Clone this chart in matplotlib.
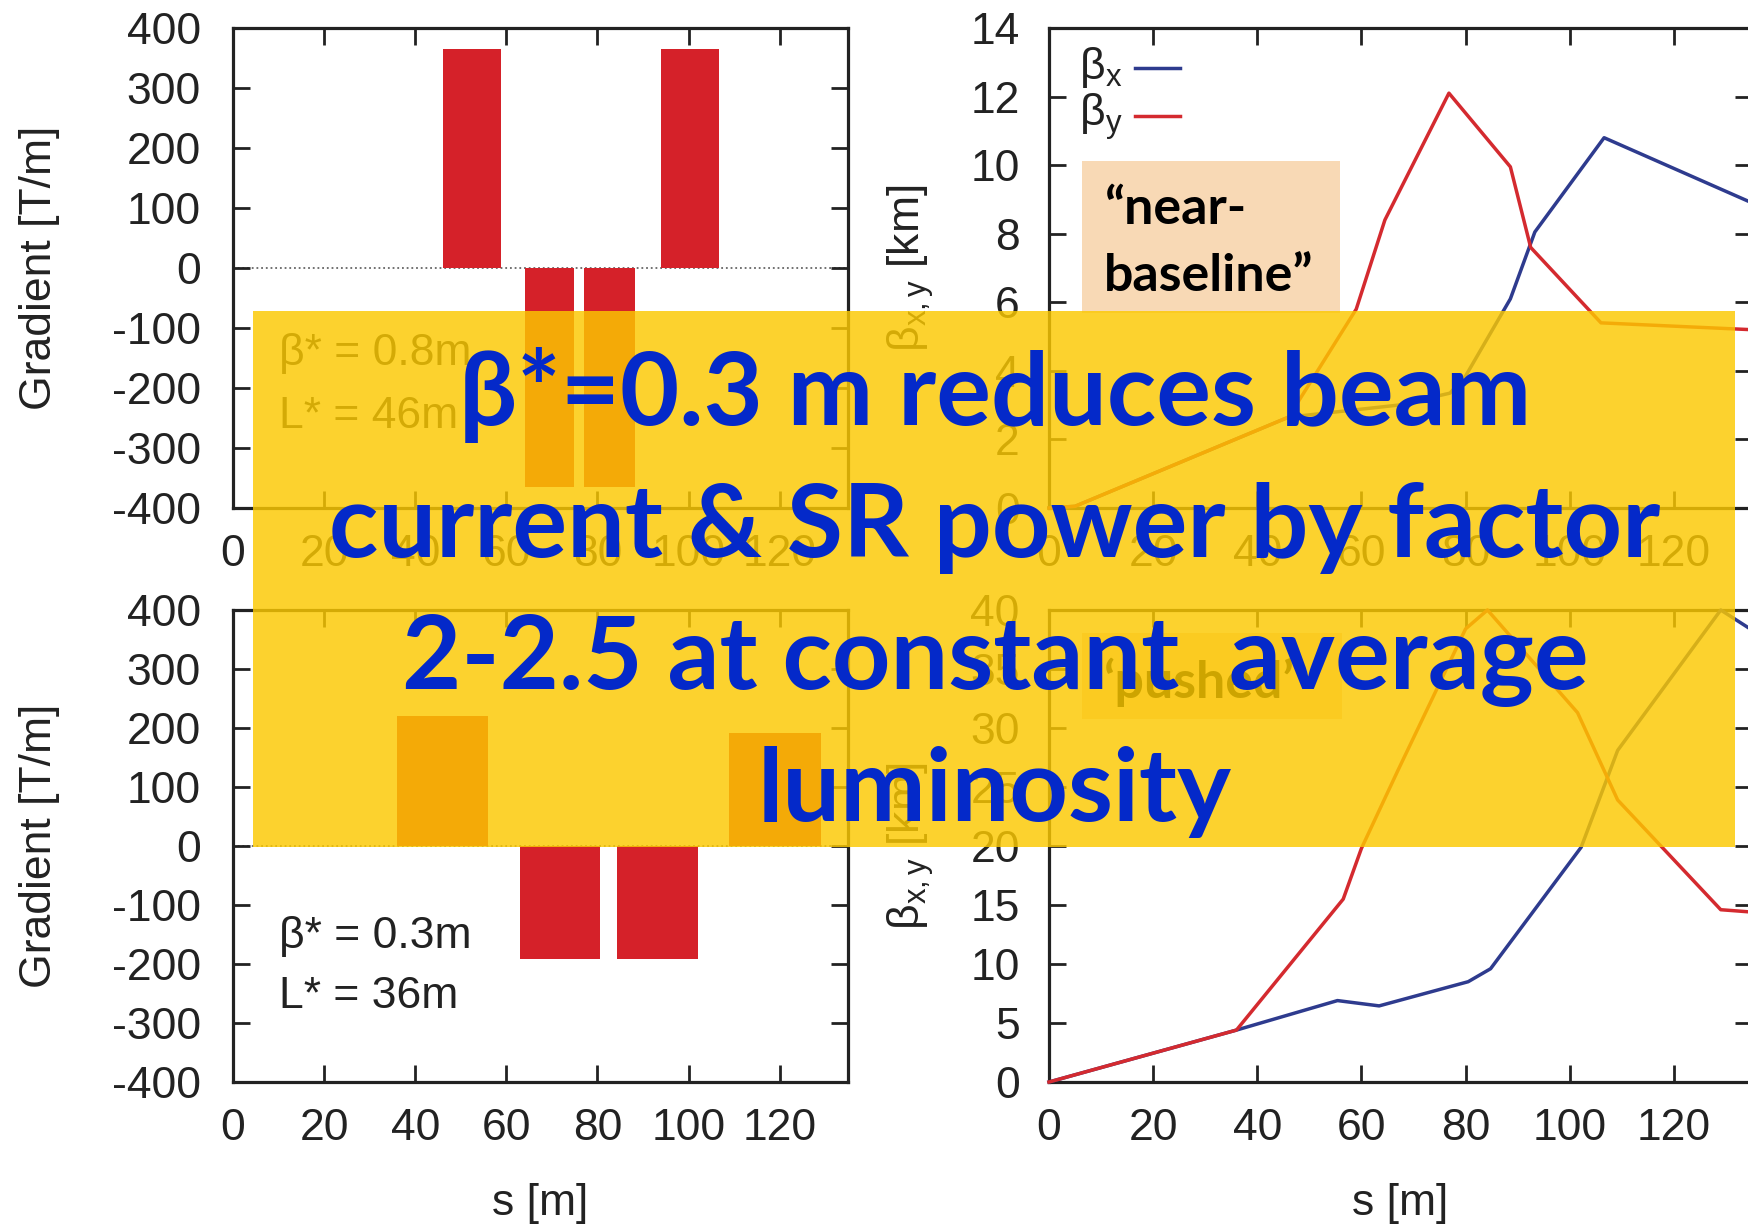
import matplotlib
matplotlib.use("Agg")
import matplotlib.pyplot as plt
from matplotlib.patches import Rectangle
from matplotlib.lines import Line2D

W, H, DPI = 1749, 1225, 100

# ---------------- data ----------------
s_ticks = [0, 20, 40, 60, 80, 100, 120]
grad_ticks = [-400, -300, -200, -100, 0, 100, 200, 300, 400]
beta_top_ticks = [0, 2, 4, 6, 8, 10, 12, 14]
beta_bot_ticks = [0, 5, 10, 15, 20, 25, 30, 35, 40]

# quadrupole gradients, "near-baseline" (beta*=0.8 m, L*=46 m)
quad_start_top = [46.0, 64.0, 77.0, 94.0]
quad_end_top = [58.8, 74.9, 88.2, 106.6]
grad_top = [365, -365, -365, 365]
# quadrupole gradients, "pushed" (beta*=0.3 m, L*=36 m)
quad_start_bot = [36.0, 63.0, 84.3, 108.8]
quad_end_bot = [56.0, 80.6, 102.1, 129.0]
grad_bot = [220, -191, -191, 192]

# beta functions [km]
s_bx_top = [0, 5, 46, 67, 77, 80, 88.6, 93.3, 106.6, 135]
bx_top = [0, 0.05, 2.65, 3.0, 3.35, 3.85, 6.1, 8.05, 10.8, 8.9]
s_by_top = [0, 5, 46, 59, 64.5, 76.8, 88.6, 92.5, 106, 135]
by_top = [0, 0.05, 2.65, 5.8, 8.4, 12.1, 9.95, 7.6, 5.4, 5.2]

s_bx_bot = [0, 36, 55.4, 63.4, 80.5, 84.8, 102.2, 109.2, 129, 135]
bx_bot = [0, 4.4, 6.9, 6.45, 8.5, 9.6, 19.9, 28.1, 40, 38.3]
s_by_bot = [0, 36, 56.5, 60, 67, 80, 84.2, 101.5, 109.2, 129, 135]
by_bot = [0, 4.4, 15.5, 19.8, 26.4, 38.4, 40, 31.3, 23.9, 14.6, 14.4]

headline = ["\u03b2*=0.3 m reduces beam",
            "current & SR power by factor",
            "2-2.5 at constant  average",
            "luminosity"]

# ---------------- style ----------------
plt.rcParams["font.family"] = ["Liberation Sans", "DejaVu Sans"]
plt.rcParams["mathtext.fontset"] = "custom"
plt.rcParams["mathtext.rm"] = "Liberation Sans"
plt.rcParams["mathtext.it"] = "Liberation Sans:italic"
plt.rcParams["axes.unicode_minus"] = False

INK = "#222222"
RED = "#d42a2f"
BLUE = "#2e3b8e"
BAR_RED = "#d52129"
YELLOW = (252 / 255, 201 / 255, 0)
PEACH = "#f8d9b5"
TXT_BLUE = "#0429c9"

fig = plt.figure(figsize=(W / DPI, H / DPI), dpi=DPI)


def px_axes(l, r, t, b):
    return fig.add_axes([l / W, 1 - b / H, (r - l) / W, (b - t) / H])


def ftext(x, y, s, **kw):
    return fig.text(x / W, 1 - y / H, s, **kw)


def style(ax, yticks, ypad):
    ax.set_xlim(0, 135)
    ax.set_xticks(s_ticks)
    ax.set_yticks(yticks)
    ax.set_ylim(yticks[0], yticks[-1])
    for sp in ax.spines.values():
        sp.set_linewidth(2.3)
        sp.set_color(INK)
    ax.tick_params(direction="in", length=12, width=2.0, color=INK,
                   top=True, right=True, labelsize=32, labelcolor=INK)
    ax.tick_params(axis="x", pad=19)
    ax.tick_params(axis="y", pad=ypad)


# gradient panels
for (t, b, st, en, g) in [(28, 508, quad_start_top, quad_end_top, grad_top),
                          (610, 1082, quad_start_bot, quad_end_bot, grad_bot)]:
    ax = px_axes(233, 848, t, b)
    style(ax, grad_ticks, 23)
    ax.axhline(0, color="#666666", lw=1.3, ls=(0, (1, 1.6)), zorder=1)
    widths = [e - s for s, e in zip(st, en)]
    ax.bar(st, g, width=widths, align="edge", color=BAR_RED, zorder=2)

# beta panels
for (t, b, ticks, sx, bx, sy, by) in [(28, 508, beta_top_ticks, s_bx_top, bx_top, s_by_top, by_top),
                                      (610, 1082, beta_bot_ticks, s_bx_bot, bx_bot, s_by_bot, by_bot)]:
    ax = px_axes(1049, 1752, t, b)
    style(ax, ticks, 21)
    ax.plot(sx, bx, color=BLUE, lw=2.5, zorder=3, clip_on=False)
    ax.plot(sy, by, color=RED, lw=2.5, zorder=3, clip_on=False)

# axis labels
ftext(40, 268, "Gradient [T/m]", rotation=90, ha="center", va="center", size=32, color=INK)
ftext(40, 846, "Gradient [T/m]", rotation=90, ha="center", va="center", size=32, color=INK)
ftext(911, 268, r"$\mathrm{\beta_{x,y}}$ [km]", rotation=90, ha="center", va="center", size=32, color=INK)
ftext(911, 846, r"$\mathrm{\beta_{x,y}}$ [km]", rotation=90, ha="center", va="center", size=32, color=INK)
ftext(540, 1203, "s [m]", ha="center", va="center", size=32, color=INK)
ftext(1400, 1203, "s [m]", ha="center", va="center", size=32, color=INK)

# parameter annotations
ftext(279, 365, "\u03b2* = 0.8m", ha="left", va="baseline", size=32, color=INK)
ftext(279, 428, "L* = 46m", ha="left", va="baseline", size=32, color=INK)
ftext(279, 948, "\u03b2* = 0.3m", ha="left", va="baseline", size=32, color=INK)
ftext(279, 1008, "L* = 36m", ha="left", va="baseline", size=32, color=INK)

# legend of the beta panel
ftext(1079, 79, r"$\mathrm{\beta_x}$", ha="left", va="baseline", size=32, color=INK)
ftext(1079, 126, r"$\mathrm{\beta_y}$", ha="left", va="baseline", size=32, color=INK)
for yy, c in [(68, BLUE), (116, RED)]:
    fig.add_artist(Line2D([1135 / W, 1180 / W], [1 - yy / H, 1 - yy / H],
                          transform=fig.transFigure, color=c, lw=2.5))

renderer = fig.canvas.get_renderer()


def fit(t, target):
    for _ in range(4):
        w = t.get_window_extent(renderer).width
        t.set_fontsize(t.get_fontsize() * target / w)


BOLD = dict(family=["Lato", "DejaVu Sans"], weight="bold")

# peach label boxes (under the yellow banner)
fig.add_artist(Rectangle((1082 / W, 1 - 313 / H), (1340 - 1082) / W, (313 - 161) / H,
                         transform=fig.transFigure, facecolor=PEACH, edgecolor="none", zorder=5))
fig.add_artist(Rectangle((1082 / W, 1 - 719 / H), (1342 - 1082) / W, (719 - 633) / H,
                         transform=fig.transFigure, facecolor=PEACH, edgecolor="none", zorder=5))
t1 = ftext(1104, 224, "\u201cnear-", ha="left", va="baseline", size=30, color="black", zorder=6, **BOLD)
t2 = ftext(1104, 291, "baseline\u201d", ha="left", va="baseline", size=30, color="black", zorder=6, **BOLD)
fit(t2, 210)
t1.set_fontsize(t2.get_fontsize())
t3 = ftext(1103, 698, "\u2018pushed\u2019", ha="left", va="baseline", size=t2.get_fontsize(),
           color="black", zorder=6, **BOLD)

# yellow banner
fig.add_artist(Rectangle((253 / W, 1 - 847 / H), (1735 - 253) / W, (847 - 311) / H,
                         transform=fig.transFigure, facecolor=YELLOW, alpha=0.82,
                         edgecolor="none", zorder=10))
baselines = [425, 557, 689, 821]
lines = [ftext(995, yb, s, ha="center", va="baseline", size=70, color=TXT_BLUE, zorder=20, **BOLD)
         for s, yb in zip(headline, baselines)]
fit(lines[1], 1331)
for ln in lines:
    ln.set_fontsize(lines[1].get_fontsize())

fig.savefig("out.png", dpi=DPI)
